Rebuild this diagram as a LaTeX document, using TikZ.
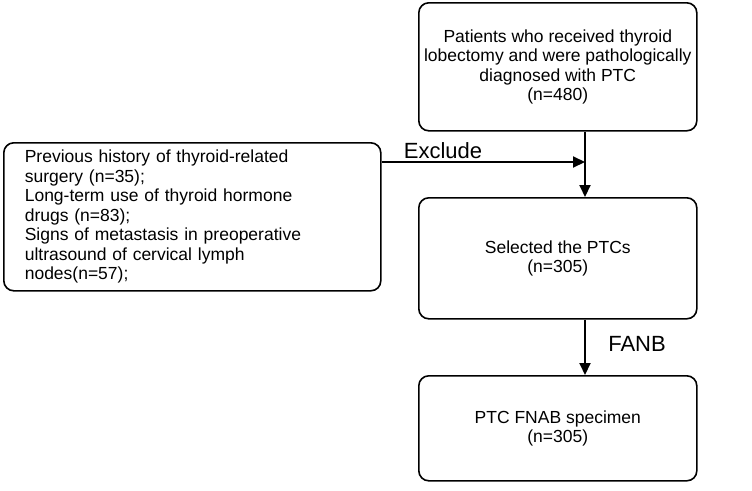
\documentclass[tikz,border=0pt]{standalone}
\usepackage{fontspec}
\setmainfont{Liberation Sans}
\usetikzlibrary{arrows.meta}
\begin{document}
\begin{tikzpicture}[x=1pt,y=-1pt,
  box/.style={draw,line width=1.6pt,rounded corners=10pt,align=center,font=\fontsize{17.5}{19.5}\selectfont,inner sep=4pt},
  arr/.style={line width=2pt,-{Triangle[length=12pt,width=11pt]}},
  lab/.style={font=\fontsize{22}{26}\selectfont}]
\useasboundingbox (0,0) rectangle (752,490);
\node[box,minimum width=278pt,minimum height=128pt,anchor=north west] (top) at (418,2) {Patients who received thyroid\\lobectomy and were pathologically\\diagnosed with PTC\\(n=480)};
\node[box,minimum width=377pt,minimum height=148pt,anchor=north west,align=left,text width=335pt] (left) at (3,142) {Previous history of thyroid-related\\surgery (n=35);\\Long-term use of thyroid hormone\\drugs (n=83);\\Signs of metastasis in preoperative\\ultrasound of cervical lymph\\nodes(n=57);};
\node[box,minimum width=278pt,minimum height=121pt,anchor=north west] (mid) at (418,197) {Selected the PTCs\\(n=305)};
\node[box,minimum width=278pt,minimum height=105pt,anchor=north west] (bot) at (418,375) {PTC FNAB specimen\\(n=305)};
\coordinate (j) at (585,162);
\draw[arr] (top.south -| j) -- (mid.north -| j);
\draw[arr] (left.east |- j) -- (j);
\draw[arr] (mid.south -| j) -- (bot.north -| j);
\node[lab] (ex) at (443,151) {Exclude};
\node[lab] (fa) at (637,344) {FANB};
\end{tikzpicture}
\end{document}
